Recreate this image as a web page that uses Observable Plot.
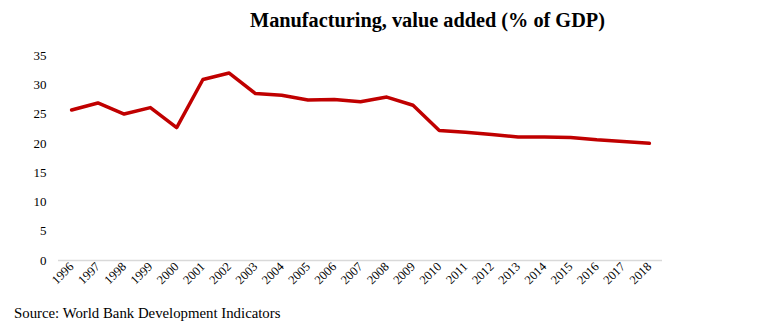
<!DOCTYPE html>
<html>
<head>
<meta charset="utf-8">
<script src="https://cdn.jsdelivr.net/npm/d3@7"></script>
<script src="https://cdn.jsdelivr.net/npm/@observablehq/plot@0.6"></script>
<style>
  body { margin: 0; background: #fff; width: 768px; height: 328px; overflow: hidden; font-family: "Liberation Serif", serif; }
  #title { height: 40px; line-height: 40px; font-size: 20.3px; font-weight: bold; color: #000; padding-left: 250px; box-sizing: border-box; white-space: nowrap; }
  #caption { height: 26px; line-height: 22px; font-size: 14.8px; color: #000; padding-left: 14px; white-space: nowrap; }
  svg { display: block; }
</style>
</head>
<body>
<div id="title">Manufacturing, value added (% of GDP)</div>
<div id="chart"></div>
<div id="caption">Source: World Bank Development Indicators</div>
<script>
const years = ["1996","1997","1998","1999","2000","2001","2002","2003","2004","2005","2006","2007","2008","2009","2010","2011","2012","2013","2014","2015","2016","2017","2018"];
const values = [25.7, 26.9, 25.0, 26.1, 22.7, 30.9, 32.0, 28.5, 28.2, 27.4, 27.5, 27.1, 27.9, 26.5, 22.2, 21.9, 21.5, 21.1, 21.1, 21.0, 20.6, 20.3, 20.0];
const yTicks = [0, 5, 10, 15, 20, 25, 30, 35];

const data = years.map((y, i) => ({year: y, value: values[i]}));

const chart = Plot.plot({
  width: 768,
  height: 262,
  marginTop: 15,
  marginBottom: 42,
  marginLeft: 58,
  marginRight: 106,
  style: { fontFamily: "Liberation Serif, serif", fontSize: "13px", color: "#000", background: "#fff" },
  x: { type: "point", domain: years, padding: 0.5, round: false, label: null },
  y: { domain: [0, 35], label: null },
  marks: [
    Plot.axisY({ ticks: yTicks, tickSize: 0, tickPadding: 12, label: null, fontSize: 13 }),
    Plot.axisX({ tickSize: 0, tickRotate: -45, tickPadding: 4, label: null, fontSize: 12.5 }),
    Plot.ruleY([0], { stroke: "#d9d9d9", strokeWidth: 1.5 }),
    Plot.line(data, { x: "year", y: "value", stroke: "#c00000", strokeWidth: 3.5, strokeLinejoin: "round" })
  ]
});
document.getElementById("chart").appendChild(chart);
</script>
</body>
</html>
